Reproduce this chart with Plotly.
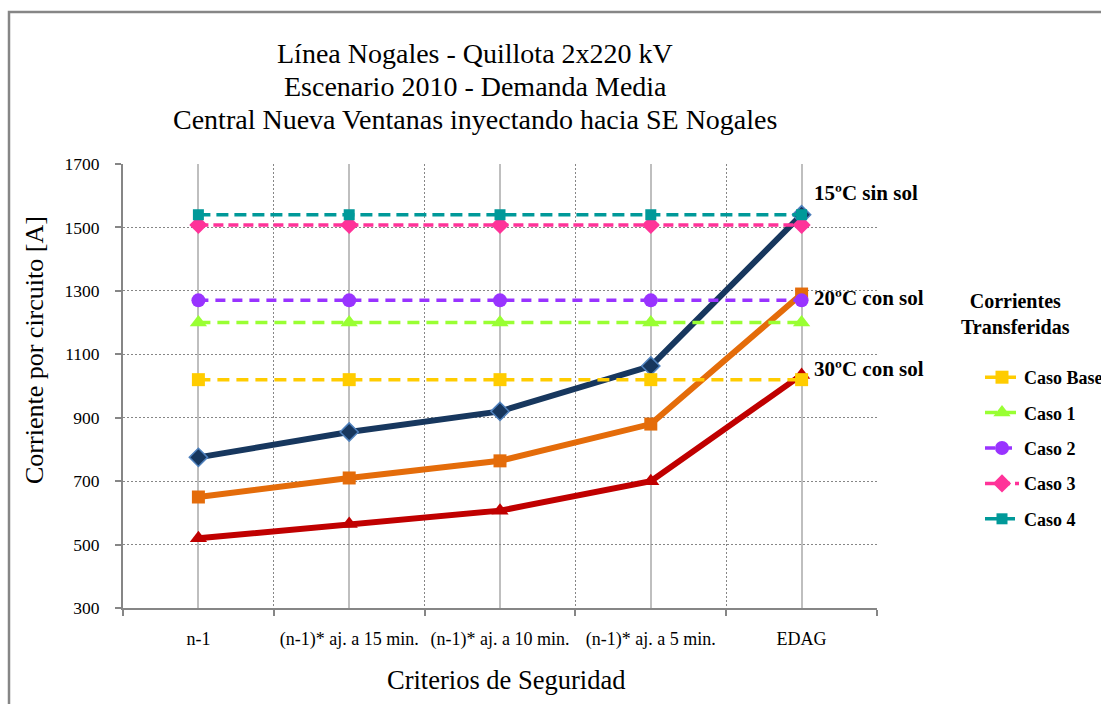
import plotly.graph_objects as go

# Security criteria along the horizontal axis
criterios = ["n-1", "(n-1)* aj. a 15 min.", "(n-1)* aj. a 10 min.",
             "(n-1)* aj. a 5 min.", "EDAG"]

# Circuit capacity [A] for each ambient condition
cap_15_sin_sol = [775, 855, 920, 1063, 1540]
cap_20_con_sol = [650, 710, 764, 880, 1290]
cap_30_con_sol = [520, 565, 607, 700, 1035]

# Transferred currents [A] per case (constant across criteria)
caso_base = [1020] * 5
caso_1 = [1200] * 5
caso_2 = [1270] * 5
caso_3 = [1508] * 5
caso_4 = [1540] * 5

y_ticks = [300, 500, 700, 900, 1100, 1300, 1500, 1700]

titulo = ["Línea Nogales - Quillota 2x220 kV",
          "Escenario 2010 - Demanda Media",
          "Central Nueva Ventanas inyectando hacia SE Nogales"]

SERIF = '"Liberation Serif", "Times New Roman", serif'
W, H = 1101, 704
L, R, T, B = 123, 224, 164, 96

xs = list(range(len(criterios)))
fig = go.Figure()

# Capacity curves (solid)
fig.add_trace(go.Scatter(
    x=xs, y=cap_15_sin_sol, mode="lines+markers", showlegend=False,
    line=dict(color="#17375E", width=6),
    marker=dict(symbol="diamond", size=14, color="#17375E",
                line=dict(color="#4F81BD", width=1.5))))
fig.add_trace(go.Scatter(
    x=xs, y=cap_20_con_sol, mode="lines+markers", showlegend=False,
    line=dict(color="#E46C0A", width=6),
    marker=dict(symbol="square", size=13, color="#E46C0A")))
fig.add_trace(go.Scatter(
    x=xs, y=cap_30_con_sol, mode="lines+markers", showlegend=False,
    line=dict(color="#C00000", width=6),
    marker=dict(symbol="triangle-up", size=15, color="#C00000")))

# Transferred currents (dashed)
casos = [
    ("Caso Base", caso_base, "#FFCC00", "square", 13, "12px,7px"),
    ("Caso 1", caso_1, "#99FF33", "triangle-up", 15, "12px,7px"),
    ("Caso 2", caso_2, "#9933FF", "circle", 14, "10px,7px"),
    ("Caso 3", caso_3, "#FF3399", "diamond", 14, "10px,5px"),
    ("Caso 4", caso_4, "#009999", "square", 11, "12px,6px"),
]
for name, vals, color, sym, size, dash in casos:
    fig.add_trace(go.Scatter(
        x=xs, y=vals, mode="lines+markers", name=name, legendgroup=name,
        line=dict(color=color, width=3.5, dash=dash),
        marker=dict(symbol=sym, size=size, color=color)))

# Series labels next to the EDAG end of each capacity curve
etiquetas = [("15ºC sin sol", cap_15_sin_sol[-1], 22),
             ("20ºC con sol", cap_20_con_sol[-1], -4),
             ("30ºC con sol", cap_30_con_sol[-1], 6)]
for txt, yv, ysh in etiquetas:
    fig.add_annotation(x=xs[-1], y=yv, xref="x", yref="y", text=txt,
                       showarrow=False, xanchor="left", yanchor="middle",
                       xshift=10, yshift=ysh,
                       font=dict(family=SERIF, size=21, color="black", weight="bold"))

pw = W - L - R
ph = H - T - B
def px_x(p):
    return (p - L) / pw
def px_y(p):
    return (H - B - p) / ph

# Three-line chart title
for i, linea in enumerate(titulo):
    fig.add_annotation(x=px_x(475), y=px_y(53 + 33 * i), xref="paper", yref="paper",
                       text=linea, showarrow=False, xanchor="center", yanchor="middle",
                       font=dict(family=SERIF, size=28, color="black"))

# Axis titles
fig.add_annotation(x=px_x(506), y=px_y(680), xref="paper", yref="paper",
                   text="Criterios de Seguridad", showarrow=False,
                   xanchor="center", yanchor="middle",
                   font=dict(family=SERIF, size=26.5, color="black"))
fig.add_annotation(x=px_x(34), y=px_y(350), xref="paper", yref="paper",
                   text="Corriente por circuito [A]", showarrow=False, textangle=-90,
                   xanchor="center", yanchor="middle",
                   font=dict(family=SERIF, size=26, color="black"))

# Legend heading, centred above the legend entries
fig.add_annotation(x=px_x(1015), y=px_y(314), xref="paper", yref="paper",
                   text="Corrientes<br>Transferidas", showarrow=False, align="center",
                   xanchor="center", yanchor="middle",
                   font=dict(family=SERIF, size=20, color="black", weight="bold"))

# Outer chart-area border
fig.add_shape(type="rect", xref="paper", yref="paper",
              x0=px_x(9), x1=px_x(W + 10), y0=px_y(H + 10), y1=px_y(12),
              line=dict(color="#868686", width=2.5), fillcolor="rgba(0,0,0,0)",
              layer="below")

fig.update_layout(
    width=W, height=H,
    margin=dict(l=L, r=R, t=T, b=B, pad=0, autoexpand=False),
    paper_bgcolor="white", plot_bgcolor="white",
    font=dict(family=SERIF, color="black"),
    xaxis=dict(
        range=[-0.5, len(criterios) - 0.5],
        tickmode="array", tickvals=xs, ticktext=criterios,
        ticks="", showgrid=True, gridcolor="#BFBFBF", gridwidth=2,
        showline=True, linecolor="#868686", linewidth=2,
        tickfont=dict(family=SERIF, size=18, color="black"),
        ticklabelstandoff=13, automargin=False,
        minor=dict(tick0=-0.5, dtick=1, ticks="outside", ticklen=6,
                   tickcolor="#868686", tickwidth=1.5,
                   showgrid=True, gridcolor="#868686", gridwidth=1.2,
                   griddash="2px,2px"),
        zeroline=False, fixedrange=True),
    yaxis=dict(
        range=[300, 1700], tickmode="array", tickvals=y_ticks,
        ticks="outside", ticklen=6, tickcolor="#868686", tickwidth=1.5,
        showgrid=True, gridcolor="#868686", gridwidth=1.2, griddash="2px,2px",
        showline=True, linecolor="#868686", linewidth=2,
        tickfont=dict(family=SERIF, size=17.5, color="black"),
        ticklabelstandoff=12, automargin=False,
        zeroline=False, fixedrange=True),
    legend=dict(
        x=px_x(980), y=px_y(359), xanchor="left", yanchor="top",
        bgcolor="rgba(0,0,0,0)", tracegroupgap=9,
        font=dict(family=SERIF, size=18, color="black", weight="bold"),
        itemwidth=34),
    showlegend=True,
)

fig.write_html("out.html")
